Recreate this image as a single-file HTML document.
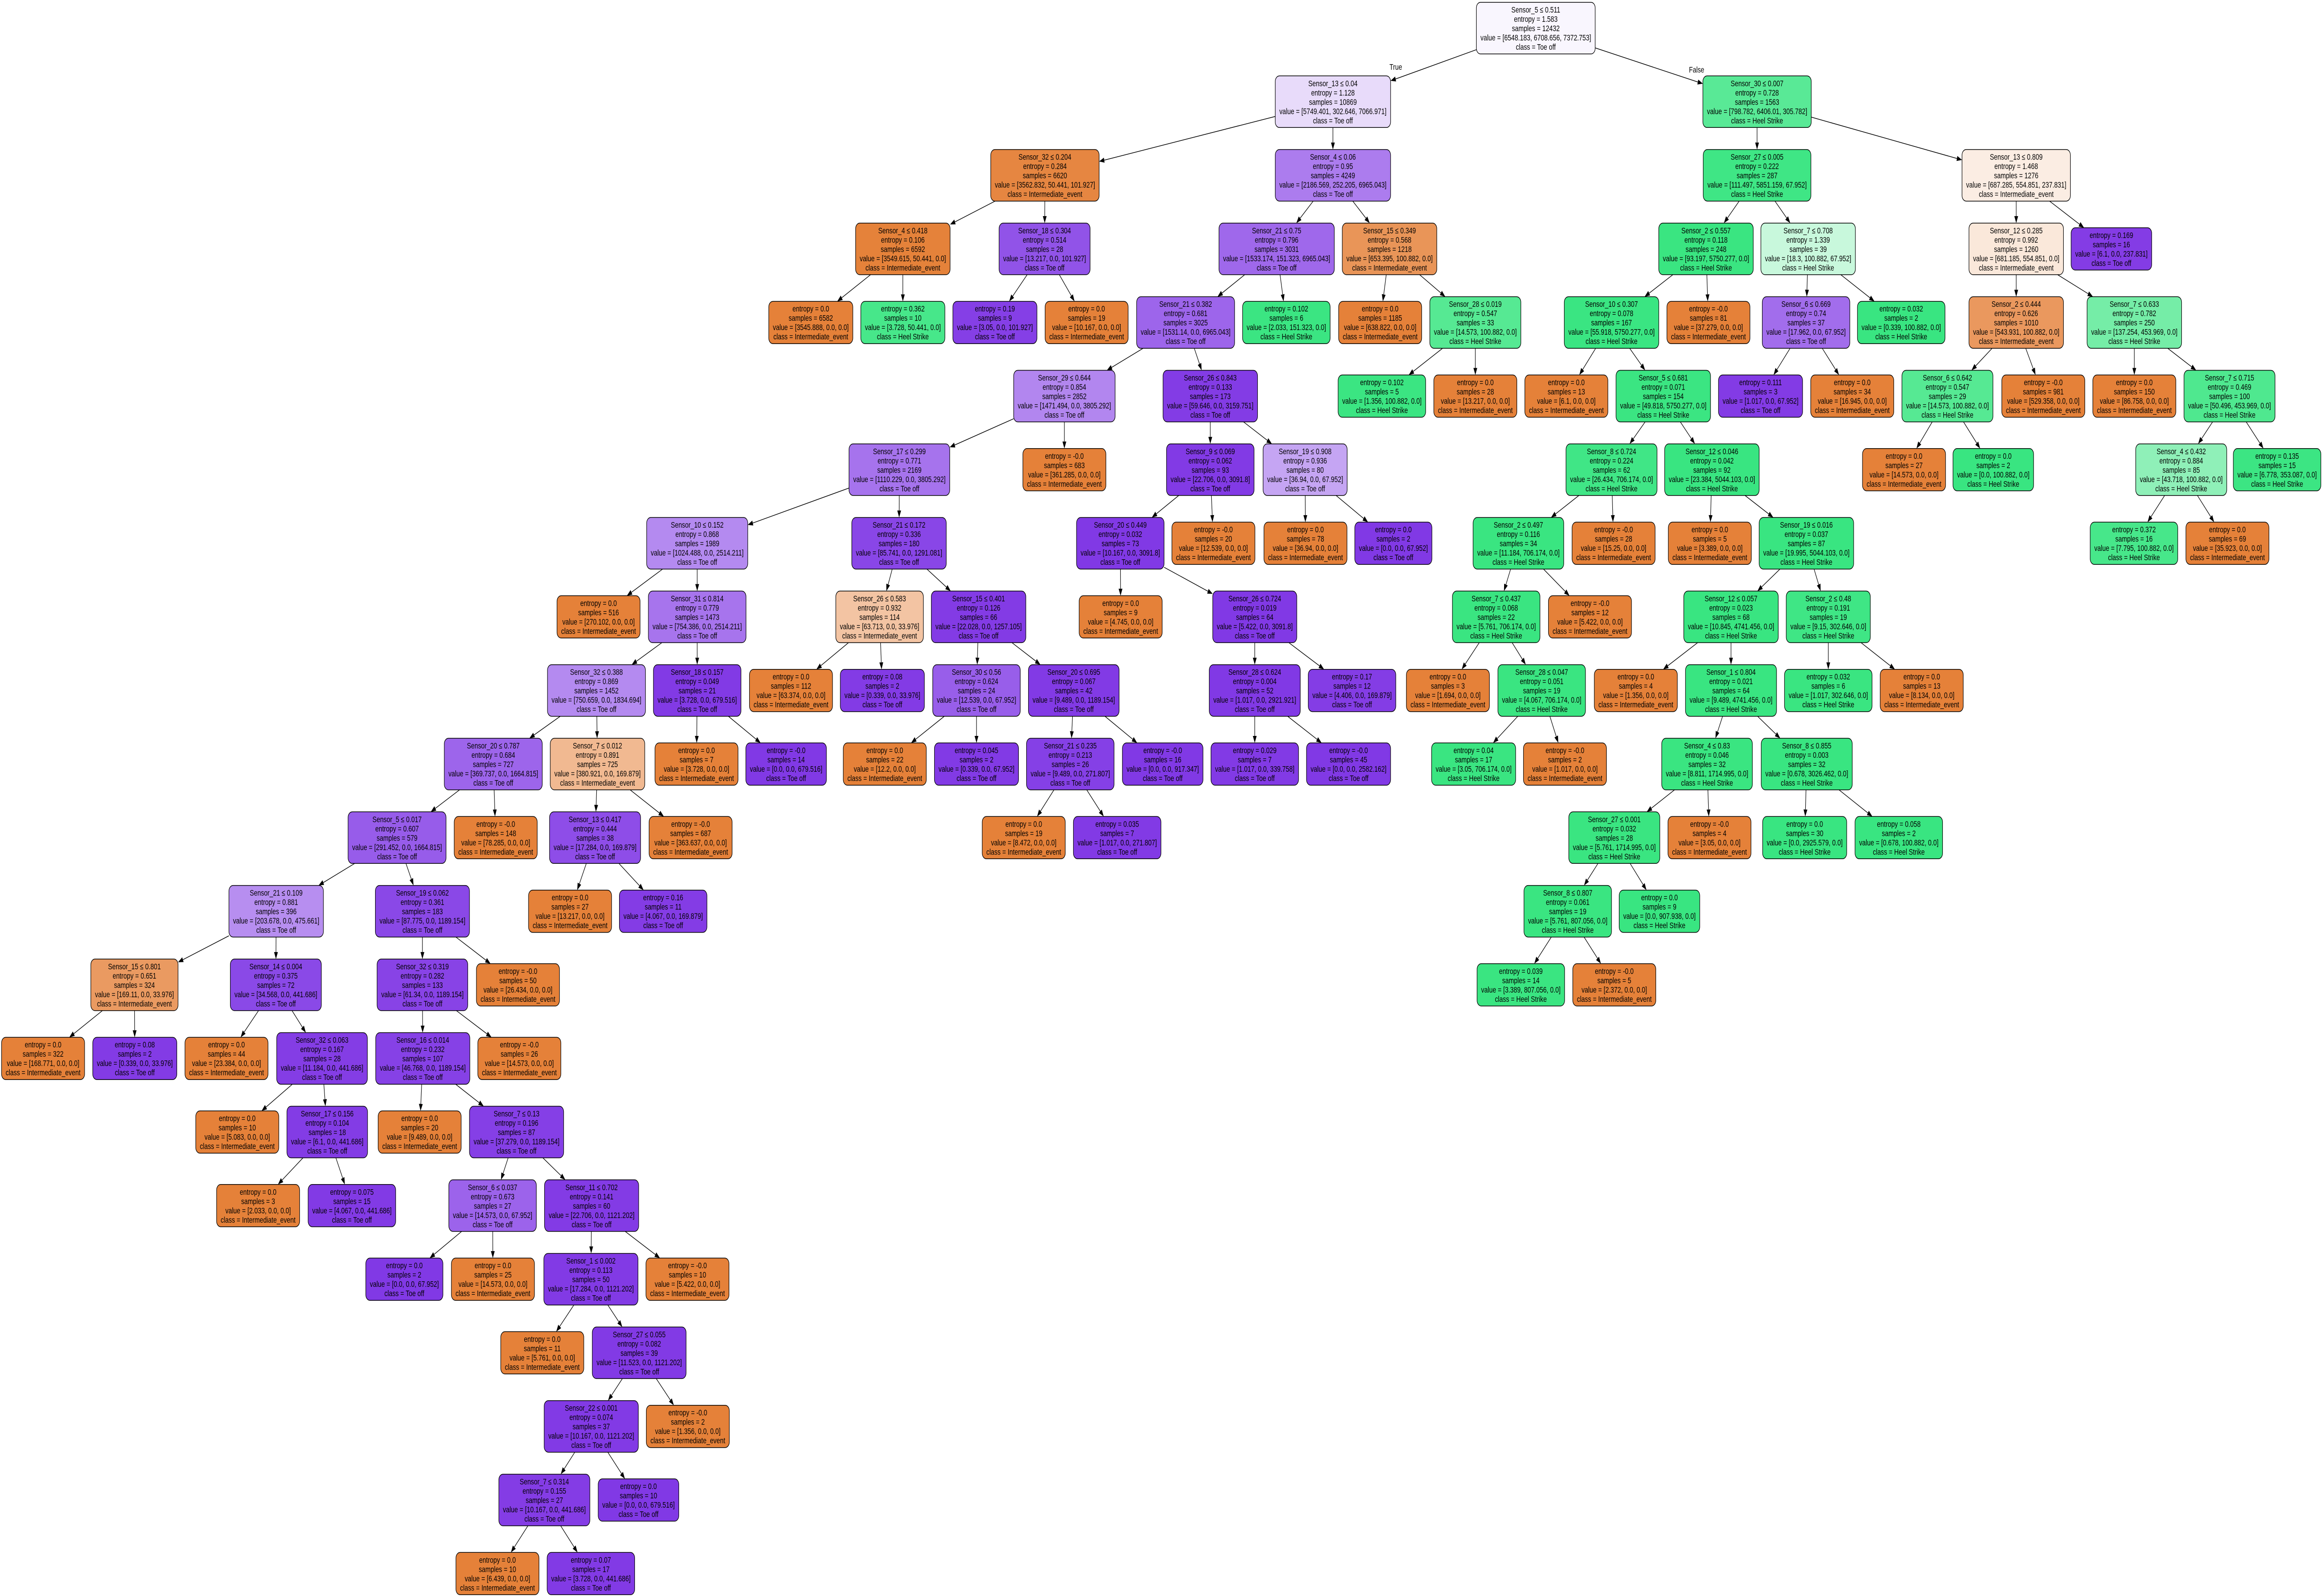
<!DOCTYPE html>
<html><head><meta charset="utf-8"><style>
html,body{margin:0;padding:0;background:#fff;width:100%;height:100%;overflow:hidden}
svg{display:block;position:absolute;left:0;top:0;width:100vw;height:100vh}
text{font-family:"Liberation Sans",Arial,sans-serif;font-size:18px;text-anchor:middle;fill:#000}
rect{stroke:#000;stroke-width:1.5}
</style></head><body>
<svg id="s" xmlns="http://www.w3.org/2000/svg" viewBox="0 0 6690 3433" preserveAspectRatio="none">
<rect x="0" y="0" width="6690" height="3433" fill="#fff" style="stroke:none"/>
<g id="edges"></g>
<text x="4018" y="150">True</text>
<text x="4884" y="156">False</text>

<g id="n1" class="n" transform="translate(4421,60.5)"><rect x="-125" y="-55.5" width="250" height="111" rx="12" fill="#f9f6fe"/><text y="-33.5">Sensor_5 ≤ 0.511</text><text y="-13.5">entropy = 1.583</text><text y="6.5">samples = 12432</text><text y="26.5">value = [6548.183, 6708.656, 7372.753]</text><text y="46.5">class = Toe off</text></g>
<g id="n2" class="n p1" transform="translate(3837,218.8)"><rect x="-125" y="-55.5" width="250" height="111" rx="12" fill="#e8dbfa"/><text y="-33.5">Sensor_13 ≤ 0.04</text><text y="-13.5">entropy = 1.128</text><text y="6.5">samples = 10869</text><text y="26.5">value = [5749.401, 302.646, 7066.971]</text><text y="46.5">class = Toe off</text></g>
<g id="n3" class="n p1" transform="translate(5058,218.8)"><rect x="-125" y="-55.5" width="250" height="111" rx="12" fill="#59e996"/><text y="-33.5">Sensor_30 ≤ 0.007</text><text y="-13.5">entropy = 0.728</text><text y="6.5">samples = 1563</text><text y="26.5">value = [798.782, 6406.01, 305.782]</text><text y="46.5">class = Heel Strike</text></g>
<g id="n4" class="n p2" transform="translate(3008,377.1)"><rect x="-125" y="-55.5" width="250" height="111" rx="12" fill="#e68641"/><text y="-33.5">Sensor_32 ≤ 0.204</text><text y="-13.5">entropy = 0.284</text><text y="6.5">samples = 6620</text><text y="26.5">value = [3562.832, 50.441, 101.927]</text><text y="46.5">class = Intermediate_event</text></g>
<g id="n5" class="n p2" transform="translate(3837,377.1)"><rect x="-125" y="-55.5" width="250" height="111" rx="12" fill="#ac7cee"/><text y="-33.5">Sensor_4 ≤ 0.06</text><text y="-13.5">entropy = 0.95</text><text y="6.5">samples = 4249</text><text y="26.5">value = [2186.569, 252.205, 6965.043]</text><text y="46.5">class = Toe off</text></g>
<g id="n6" class="n p4" transform="translate(2599,535.4)"><rect x="-125" y="-55.5" width="250" height="111" rx="12" fill="#e5823a"/><text y="-33.5">Sensor_4 ≤ 0.418</text><text y="-13.5">entropy = 0.106</text><text y="6.5">samples = 6592</text><text y="26.5">value = [3549.615, 50.441, 0.0]</text><text y="46.5">class = Intermediate_event</text></g>
<g id="n7" class="n p4" transform="translate(3007,535.4)"><rect x="-125" y="-55.5" width="250" height="111" rx="12" fill="#9153e8"/><text y="-33.5">Sensor_18 ≤ 0.304</text><text y="-13.5">entropy = 0.514</text><text y="6.5">samples = 28</text><text y="26.5">value = [13.217, 0.0, 101.927]</text><text y="46.5">class = Toe off</text></g>
<g id="n8" class="n p5" transform="translate(3675,535.4)"><rect x="-125" y="-55.5" width="250" height="111" rx="12" fill="#9f68eb"/><text y="-33.5">Sensor_21 ≤ 0.75</text><text y="-13.5">entropy = 0.796</text><text y="6.5">samples = 3031</text><text y="26.5">value = [1533.174, 151.323, 6965.043]</text><text y="46.5">class = Toe off</text></g>
<g id="n9" class="n p5" transform="translate(4000,535.4)"><rect x="-125" y="-55.5" width="250" height="111" rx="12" fill="#e99558"/><text y="-33.5">Sensor_15 ≤ 0.349</text><text y="-13.5">entropy = 0.568</text><text y="6.5">samples = 1218</text><text y="26.5">value = [653.395, 100.882, 0.0]</text><text y="46.5">class = Intermediate_event</text></g>
<g id="n10" class="n p6" transform="translate(2334,693.7)"><rect x="-125" y="-45.5" width="250" height="91" rx="12" fill="#e58139"/><text y="-23.5">entropy = 0.0</text><text y="-3.5">samples = 6582</text><text y="16.5">value = [3545.888, 0.0, 0.0]</text><text y="36.5">class = Intermediate_event</text></g>
<g id="n11" class="n p6" transform="translate(2599,693.7)"><rect x="-125" y="-45.5" width="250" height="91" rx="12" fill="#47e78a"/><text y="-23.5">entropy = 0.362</text><text y="-3.5">samples = 10</text><text y="16.5">value = [3.728, 50.441, 0.0]</text><text y="36.5">class = Heel Strike</text></g>
<g id="n12" class="n p7" transform="translate(2864,693.7)"><rect x="-125" y="-45.5" width="250" height="91" rx="12" fill="#853fe6"/><text y="-23.5">entropy = 0.19</text><text y="-3.5">samples = 9</text><text y="16.5">value = [3.05, 0.0, 101.927]</text><text y="36.5">class = Toe off</text></g>
<g id="n13" class="n p7" transform="translate(3128,693.7)"><rect x="-125" y="-45.5" width="250" height="91" rx="12" fill="#e58139"/><text y="-23.5">entropy = 0.0</text><text y="-3.5">samples = 19</text><text y="16.5">value = [10.167, 0.0, 0.0]</text><text y="36.5">class = Intermediate_event</text></g>
<g id="n14" class="n p8" transform="translate(3413,693.7)"><rect x="-125" y="-55.5" width="250" height="111" rx="12" fill="#9d65eb"/><text y="-33.5">Sensor_21 ≤ 0.382</text><text y="-13.5">entropy = 0.681</text><text y="6.5">samples = 3025</text><text y="26.5">value = [1531.14, 0.0, 6965.043]</text><text y="46.5">class = Toe off</text></g>
<g id="n15" class="n p8" transform="translate(3703,693.7)"><rect x="-125" y="-45.5" width="250" height="91" rx="12" fill="#3be582"/><text y="-23.5">entropy = 0.102</text><text y="-3.5">samples = 6</text><text y="16.5">value = [2.033, 151.323, 0.0]</text><text y="36.5">class = Heel Strike</text></g>
<g id="n16" class="n p9" transform="translate(3973,693.7)"><rect x="-125" y="-45.5" width="250" height="91" rx="12" fill="#e58139"/><text y="-23.5">entropy = 0.0</text><text y="-3.5">samples = 1185</text><text y="16.5">value = [638.822, 0.0, 0.0]</text><text y="36.5">class = Intermediate_event</text></g>
<g id="n17" class="n p9" transform="translate(4247,693.7)"><rect x="-125" y="-55.5" width="250" height="111" rx="12" fill="#56e993"/><text y="-33.5">Sensor_28 ≤ 0.019</text><text y="-13.5">entropy = 0.547</text><text y="6.5">samples = 33</text><text y="26.5">value = [14.573, 100.882, 0.0]</text><text y="46.5">class = Heel Strike</text></g>
<g id="n18" class="n p14" transform="translate(3064,852)"><rect x="-125" y="-55.5" width="250" height="111" rx="12" fill="#b286ef"/><text y="-33.5">Sensor_29 ≤ 0.644</text><text y="-13.5">entropy = 0.854</text><text y="6.5">samples = 2852</text><text y="26.5">value = [1471.494, 0.0, 3805.292]</text><text y="46.5">class = Toe off</text></g>
<g id="n19" class="n p14" transform="translate(3484,852)"><rect x="-125" y="-55.5" width="250" height="111" rx="12" fill="#833ce5"/><text y="-33.5">Sensor_26 ≤ 0.843</text><text y="-13.5">entropy = 0.133</text><text y="6.5">samples = 173</text><text y="26.5">value = [59.646, 0.0, 3159.751]</text><text y="46.5">class = Toe off</text></g>
<g id="n20" class="n p17" transform="translate(3978,852)"><rect x="-125" y="-45.5" width="250" height="91" rx="12" fill="#3be582"/><text y="-23.5">entropy = 0.102</text><text y="-3.5">samples = 5</text><text y="16.5">value = [1.356, 100.882, 0.0]</text><text y="36.5">class = Heel Strike</text></g>
<g id="n21" class="n p17" transform="translate(4247,852)"><rect x="-125" y="-45.5" width="250" height="91" rx="12" fill="#e58139"/><text y="-23.5">entropy = 0.0</text><text y="-3.5">samples = 28</text><text y="16.5">value = [13.217, 0.0, 0.0]</text><text y="36.5">class = Intermediate_event</text></g>
<g id="n22" class="n p18" transform="translate(2589,1010.3)"><rect x="-125" y="-55.5" width="250" height="111" rx="12" fill="#a673ed"/><text y="-33.5">Sensor_17 ≤ 0.299</text><text y="-13.5">entropy = 0.771</text><text y="6.5">samples = 2169</text><text y="26.5">value = [1110.229, 0.0, 3805.292]</text><text y="46.5">class = Toe off</text></g>
<g id="n23" class="n p18" transform="translate(3064,1010.3)"><rect x="-125" y="-45.5" width="250" height="91" rx="12" fill="#e58139"/><text y="-23.5">entropy = -0.0</text><text y="-3.5">samples = 683</text><text y="16.5">value = [361.285, 0.0, 0.0]</text><text y="36.5">class = Intermediate_event</text></g>
<g id="n24" class="n p19" transform="translate(3484,1010.3)"><rect x="-125" y="-55.5" width="250" height="111" rx="12" fill="#823ae5"/><text y="-33.5">Sensor_9 ≤ 0.069</text><text y="-13.5">entropy = 0.062</text><text y="6.5">samples = 93</text><text y="26.5">value = [22.706, 0.0, 3091.8]</text><text y="46.5">class = Toe off</text></g>
<g id="n25" class="n p19" transform="translate(3757,1010.3)"><rect x="-125" y="-55.5" width="250" height="111" rx="12" fill="#c5a5f3"/><text y="-33.5">Sensor_19 ≤ 0.908</text><text y="-13.5">entropy = 0.936</text><text y="6.5">samples = 80</text><text y="26.5">value = [36.94, 0.0, 67.952]</text><text y="46.5">class = Toe off</text></g>
<g id="n26" class="n p22" transform="translate(2007,1168.6)"><rect x="-125" y="-55.5" width="250" height="111" rx="12" fill="#b48af0"/><text y="-33.5">Sensor_10 ≤ 0.152</text><text y="-13.5">entropy = 0.868</text><text y="6.5">samples = 1989</text><text y="26.5">value = [1024.488, 0.0, 2514.211]</text><text y="46.5">class = Toe off</text></g>
<g id="n27" class="n p22" transform="translate(2588,1168.6)"><rect x="-125" y="-55.5" width="250" height="111" rx="12" fill="#8946e7"/><text y="-33.5">Sensor_21 ≤ 0.172</text><text y="-13.5">entropy = 0.336</text><text y="6.5">samples = 180</text><text y="26.5">value = [85.741, 0.0, 1291.081]</text><text y="46.5">class = Toe off</text></g>
<g id="n28" class="n p24" transform="translate(3225,1168.6)"><rect x="-125" y="-55.5" width="250" height="111" rx="12" fill="#8139e5"/><text y="-33.5">Sensor_20 ≤ 0.449</text><text y="-13.5">entropy = 0.032</text><text y="6.5">samples = 73</text><text y="26.5">value = [10.167, 0.0, 3091.8]</text><text y="46.5">class = Toe off</text></g>
<g id="n29" class="n p24" transform="translate(3493,1168.6)"><rect x="-125" y="-45.5" width="250" height="91" rx="12" fill="#e58139"/><text y="-23.5">entropy = -0.0</text><text y="-3.5">samples = 20</text><text y="16.5">value = [12.539, 0.0, 0.0]</text><text y="36.5">class = Intermediate_event</text></g>
<g id="n30" class="n p25" transform="translate(3758,1168.6)"><rect x="-125" y="-45.5" width="250" height="91" rx="12" fill="#e58139"/><text y="-23.5">entropy = 0.0</text><text y="-3.5">samples = 78</text><text y="16.5">value = [36.94, 0.0, 0.0]</text><text y="36.5">class = Intermediate_event</text></g>
<g id="n31" class="n p25" transform="translate(4011,1168.6)"><rect x="-125" y="-45.5" width="250" height="91" rx="12" fill="#8139e5"/><text y="-23.5">entropy = 0.0</text><text y="-3.5">samples = 2</text><text y="16.5">value = [0.0, 0.0, 67.952]</text><text y="36.5">class = Toe off</text></g>
<g id="n32" class="n p26" transform="translate(1723,1326.9)"><rect x="-125" y="-45.5" width="250" height="91" rx="12" fill="#e58139"/><text y="-23.5">entropy = 0.0</text><text y="-3.5">samples = 516</text><text y="16.5">value = [270.102, 0.0, 0.0]</text><text y="36.5">class = Intermediate_event</text></g>
<g id="n33" class="n p26" transform="translate(2007,1326.9)"><rect x="-125" y="-55.5" width="250" height="111" rx="12" fill="#a774ed"/><text y="-33.5">Sensor_31 ≤ 0.814</text><text y="-13.5">entropy = 0.779</text><text y="6.5">samples = 1473</text><text y="26.5">value = [754.386, 0.0, 2514.211]</text><text y="46.5">class = Toe off</text></g>
<g id="n34" class="n p27" transform="translate(2532,1326.9)"><rect x="-125" y="-55.5" width="250" height="111" rx="12" fill="#f3c4a3"/><text y="-33.5">Sensor_26 ≤ 0.583</text><text y="-13.5">entropy = 0.932</text><text y="6.5">samples = 114</text><text y="26.5">value = [63.713, 0.0, 33.976]</text><text y="46.5">class = Intermediate_event</text></g>
<g id="n35" class="n p27" transform="translate(2817,1326.9)"><rect x="-125" y="-55.5" width="250" height="111" rx="12" fill="#833be5"/><text y="-33.5">Sensor_15 ≤ 0.401</text><text y="-13.5">entropy = 0.126</text><text y="6.5">samples = 66</text><text y="26.5">value = [22.028, 0.0, 1257.105]</text><text y="46.5">class = Toe off</text></g>
<g id="n36" class="n p28" transform="translate(3226,1326.9)"><rect x="-125" y="-45.5" width="250" height="91" rx="12" fill="#e58139"/><text y="-23.5">entropy = 0.0</text><text y="-3.5">samples = 9</text><text y="16.5">value = [4.745, 0.0, 0.0]</text><text y="36.5">class = Intermediate_event</text></g>
<g id="n37" class="n p28" transform="translate(3612,1326.9)"><rect x="-125" y="-55.5" width="250" height="111" rx="12" fill="#8139e5"/><text y="-33.5">Sensor_26 ≤ 0.724</text><text y="-13.5">entropy = 0.019</text><text y="6.5">samples = 64</text><text y="26.5">value = [5.422, 0.0, 3091.8]</text><text y="46.5">class = Toe off</text></g>
<g id="n38" class="n p33" transform="translate(1717,1485.2)"><rect x="-125" y="-55.5" width="250" height="111" rx="12" fill="#b48af0"/><text y="-33.5">Sensor_32 ≤ 0.388</text><text y="-13.5">entropy = 0.869</text><text y="6.5">samples = 1452</text><text y="26.5">value = [750.659, 0.0, 1834.694]</text><text y="46.5">class = Toe off</text></g>
<g id="n39" class="n p33" transform="translate(2007,1485.2)"><rect x="-125" y="-55.5" width="250" height="111" rx="12" fill="#823ae5"/><text y="-33.5">Sensor_18 ≤ 0.157</text><text y="-13.5">entropy = 0.049</text><text y="6.5">samples = 21</text><text y="26.5">value = [3.728, 0.0, 679.516]</text><text y="46.5">class = Toe off</text></g>
<g id="n40" class="n p34" transform="translate(2277,1485.2)"><rect x="-125" y="-45.5" width="250" height="91" rx="12" fill="#e58139"/><text y="-23.5">entropy = 0.0</text><text y="-3.5">samples = 112</text><text y="16.5">value = [63.374, 0.0, 0.0]</text><text y="36.5">class = Intermediate_event</text></g>
<g id="n41" class="n p34" transform="translate(2540,1485.2)"><rect x="-125" y="-45.5" width="250" height="91" rx="12" fill="#833be5"/><text y="-23.5">entropy = 0.08</text><text y="-3.5">samples = 2</text><text y="16.5">value = [0.339, 0.0, 33.976]</text><text y="36.5">class = Toe off</text></g>
<g id="n42" class="n p35" transform="translate(2811,1485.2)"><rect x="-125" y="-55.5" width="250" height="111" rx="12" fill="#985eea"/><text y="-33.5">Sensor_30 ≤ 0.56</text><text y="-13.5">entropy = 0.624</text><text y="6.5">samples = 24</text><text y="26.5">value = [12.539, 0.0, 67.952]</text><text y="46.5">class = Toe off</text></g>
<g id="n43" class="n p35" transform="translate(3091,1485.2)"><rect x="-125" y="-55.5" width="250" height="111" rx="12" fill="#823ae5"/><text y="-33.5">Sensor_20 ≤ 0.695</text><text y="-13.5">entropy = 0.067</text><text y="6.5">samples = 42</text><text y="26.5">value = [9.489, 0.0, 1189.154]</text><text y="46.5">class = Toe off</text></g>
<g id="n44" class="n p37" transform="translate(3612,1485.2)"><rect x="-125" y="-55.5" width="250" height="111" rx="12" fill="#8139e5"/><text y="-33.5">Sensor_28 ≤ 0.624</text><text y="-13.5">entropy = 0.004</text><text y="6.5">samples = 52</text><text y="26.5">value = [1.017, 0.0, 2921.921]</text><text y="46.5">class = Toe off</text></g>
<g id="n45" class="n p37" transform="translate(3892,1485.2)"><rect x="-125" y="-45.5" width="250" height="91" rx="12" fill="#843de5"/><text y="-23.5">entropy = 0.17</text><text y="-3.5">samples = 12</text><text y="16.5">value = [4.406, 0.0, 169.879]</text><text y="36.5">class = Toe off</text></g>
<g id="n46" class="n p39" transform="translate(2005,1643.5)"><rect x="-125" y="-45.5" width="250" height="91" rx="12" fill="#e58139"/><text y="-23.5">entropy = 0.0</text><text y="-3.5">samples = 7</text><text y="16.5">value = [3.728, 0.0, 0.0]</text><text y="36.5">class = Intermediate_event</text></g>
<g id="n47" class="n p39" transform="translate(2263,1643.5)"><rect x="-125" y="-45.5" width="250" height="91" rx="12" fill="#8139e5"/><text y="-23.5">entropy = -0.0</text><text y="-3.5">samples = 14</text><text y="16.5">value = [0.0, 0.0, 679.516]</text><text y="36.5">class = Toe off</text></g>
<g id="n48" class="n p42" transform="translate(2547,1643.5)"><rect x="-125" y="-45.5" width="250" height="91" rx="12" fill="#e58139"/><text y="-23.5">entropy = 0.0</text><text y="-3.5">samples = 22</text><text y="16.5">value = [12.2, 0.0, 0.0]</text><text y="36.5">class = Intermediate_event</text></g>
<g id="n49" class="n p42" transform="translate(2811,1643.5)"><rect x="-125" y="-45.5" width="250" height="91" rx="12" fill="#823ae5"/><text y="-23.5">entropy = 0.045</text><text y="-3.5">samples = 2</text><text y="16.5">value = [0.339, 0.0, 67.952]</text><text y="36.5">class = Toe off</text></g>
<g id="n50" class="n p43" transform="translate(3081,1643.5)"><rect x="-125" y="-55.5" width="250" height="111" rx="12" fill="#8540e6"/><text y="-33.5">Sensor_21 ≤ 0.235</text><text y="-13.5">entropy = 0.213</text><text y="6.5">samples = 26</text><text y="26.5">value = [9.489, 0.0, 271.807]</text><text y="46.5">class = Toe off</text></g>
<g id="n51" class="n p43" transform="translate(3347,1643.5)"><rect x="-125" y="-45.5" width="250" height="91" rx="12" fill="#8139e5"/><text y="-23.5">entropy = -0.0</text><text y="-3.5">samples = 16</text><text y="16.5">value = [0.0, 0.0, 917.347]</text><text y="36.5">class = Toe off</text></g>
<g id="n52" class="n p44" transform="translate(3612,1643.5)"><rect x="-125" y="-45.5" width="250" height="91" rx="12" fill="#823ae5"/><text y="-23.5">entropy = 0.029</text><text y="-3.5">samples = 7</text><text y="16.5">value = [1.017, 0.0, 339.758]</text><text y="36.5">class = Toe off</text></g>
<g id="n53" class="n p44" transform="translate(3882,1643.5)"><rect x="-125" y="-45.5" width="250" height="91" rx="12" fill="#8139e5"/><text y="-23.5">entropy = -0.0</text><text y="-3.5">samples = 45</text><text y="16.5">value = [0.0, 0.0, 2582.162]</text><text y="36.5">class = Toe off</text></g>
<g id="n54" class="n p38" transform="translate(1420,1643.5)"><rect x="-125" y="-55.5" width="250" height="111" rx="12" fill="#9d65eb"/><text y="-33.5">Sensor_20 ≤ 0.787</text><text y="-13.5">entropy = 0.684</text><text y="6.5">samples = 727</text><text y="26.5">value = [369.737, 0.0, 1664.815]</text><text y="46.5">class = Toe off</text></g>
<g id="n55" class="n p38" transform="translate(1720,1643.5)"><rect x="-125" y="-55.5" width="250" height="111" rx="12" fill="#f1b991"/><text y="-33.5">Sensor_7 ≤ 0.012</text><text y="-13.5">entropy = 0.891</text><text y="6.5">samples = 725</text><text y="26.5">value = [380.921, 0.0, 169.879]</text><text y="46.5">class = Intermediate_event</text></g>
<g id="n56" class="n p50" transform="translate(2947,1801.8)"><rect x="-125" y="-45.5" width="250" height="91" rx="12" fill="#e58139"/><text y="-23.5">entropy = 0.0</text><text y="-3.5">samples = 19</text><text y="16.5">value = [8.472, 0.0, 0.0]</text><text y="36.5">class = Intermediate_event</text></g>
<g id="n57" class="n p50" transform="translate(3216,1801.8)"><rect x="-125" y="-45.5" width="250" height="91" rx="12" fill="#823ae5"/><text y="-23.5">entropy = 0.035</text><text y="-3.5">samples = 7</text><text y="16.5">value = [1.017, 0.0, 271.807]</text><text y="36.5">class = Toe off</text></g>
<g id="n58" class="n p54" transform="translate(1143,1801.8)"><rect x="-125" y="-55.5" width="250" height="111" rx="12" fill="#975cea"/><text y="-33.5">Sensor_5 ≤ 0.017</text><text y="-13.5">entropy = 0.607</text><text y="6.5">samples = 579</text><text y="26.5">value = [291.452, 0.0, 1664.815]</text><text y="46.5">class = Toe off</text></g>
<g id="n59" class="n p54" transform="translate(1427,1801.8)"><rect x="-125" y="-45.5" width="250" height="91" rx="12" fill="#e58139"/><text y="-23.5">entropy = -0.0</text><text y="-3.5">samples = 148</text><text y="16.5">value = [78.285, 0.0, 0.0]</text><text y="36.5">class = Intermediate_event</text></g>
<g id="n60" class="n p55" transform="translate(1713,1801.8)"><rect x="-125" y="-55.5" width="250" height="111" rx="12" fill="#8e4de8"/><text y="-33.5">Sensor_13 ≤ 0.417</text><text y="-13.5">entropy = 0.444</text><text y="6.5">samples = 38</text><text y="26.5">value = [17.284, 0.0, 169.879]</text><text y="46.5">class = Toe off</text></g>
<g id="n61" class="n p55" transform="translate(1988,1801.8)"><rect x="-125" y="-45.5" width="250" height="91" rx="12" fill="#e58139"/><text y="-23.5">entropy = -0.0</text><text y="-3.5">samples = 687</text><text y="16.5">value = [363.637, 0.0, 0.0]</text><text y="36.5">class = Intermediate_event</text></g>
<g id="n62" class="n p58" transform="translate(795,1960.1)"><rect x="-125" y="-55.5" width="250" height="111" rx="12" fill="#b78ef0"/><text y="-33.5">Sensor_21 ≤ 0.109</text><text y="-13.5">entropy = 0.881</text><text y="6.5">samples = 396</text><text y="26.5">value = [203.678, 0.0, 475.661]</text><text y="46.5">class = Toe off</text></g>
<g id="n63" class="n p58" transform="translate(1216,1960.1)"><rect x="-125" y="-55.5" width="250" height="111" rx="12" fill="#8a48e7"/><text y="-33.5">Sensor_19 ≤ 0.062</text><text y="-13.5">entropy = 0.361</text><text y="6.5">samples = 183</text><text y="26.5">value = [87.775, 0.0, 1189.154]</text><text y="46.5">class = Toe off</text></g>
<g id="n64" class="n p60" transform="translate(1641,1960.1)"><rect x="-125" y="-45.5" width="250" height="91" rx="12" fill="#e58139"/><text y="-23.5">entropy = 0.0</text><text y="-3.5">samples = 27</text><text y="16.5">value = [13.217, 0.0, 0.0]</text><text y="36.5">class = Intermediate_event</text></g>
<g id="n65" class="n p60" transform="translate(1909,1960.1)"><rect x="-125" y="-45.5" width="250" height="91" rx="12" fill="#843ce5"/><text y="-23.5">entropy = 0.16</text><text y="-3.5">samples = 11</text><text y="16.5">value = [4.067, 0.0, 169.879]</text><text y="36.5">class = Toe off</text></g>
<g id="n66" class="n p62" transform="translate(387,2118.4)"><rect x="-125" y="-55.5" width="250" height="111" rx="12" fill="#ea9a61"/><text y="-33.5">Sensor_15 ≤ 0.801</text><text y="-13.5">entropy = 0.651</text><text y="6.5">samples = 324</text><text y="26.5">value = [169.11, 0.0, 33.976]</text><text y="46.5">class = Intermediate_event</text></g>
<g id="n67" class="n p62" transform="translate(794,2118.4)"><rect x="-125" y="-55.5" width="250" height="111" rx="12" fill="#8a49e7"/><text y="-33.5">Sensor_14 ≤ 0.004</text><text y="-13.5">entropy = 0.375</text><text y="6.5">samples = 72</text><text y="26.5">value = [34.568, 0.0, 441.686]</text><text y="46.5">class = Toe off</text></g>
<g id="n68" class="n p63" transform="translate(1216,2118.4)"><rect x="-125" y="-55.5" width="250" height="111" rx="12" fill="#8843e6"/><text y="-33.5">Sensor_32 ≤ 0.319</text><text y="-13.5">entropy = 0.282</text><text y="6.5">samples = 133</text><text y="26.5">value = [61.34, 0.0, 1189.154]</text><text y="46.5">class = Toe off</text></g>
<g id="n69" class="n p63" transform="translate(1491,2118.4)"><rect x="-125" y="-45.5" width="250" height="91" rx="12" fill="#e58139"/><text y="-23.5">entropy = -0.0</text><text y="-3.5">samples = 50</text><text y="16.5">value = [26.434, 0.0, 0.0]</text><text y="36.5">class = Intermediate_event</text></g>
<g id="n70" class="n p66" transform="translate(124,2276.7)"><rect x="-125" y="-45.5" width="250" height="91" rx="12" fill="#e58139"/><text y="-23.5">entropy = 0.0</text><text y="-3.5">samples = 322</text><text y="16.5">value = [168.771, 0.0, 0.0]</text><text y="36.5">class = Intermediate_event</text></g>
<g id="n71" class="n p66" transform="translate(388,2276.7)"><rect x="-125" y="-45.5" width="250" height="91" rx="12" fill="#833be5"/><text y="-23.5">entropy = 0.08</text><text y="-3.5">samples = 2</text><text y="16.5">value = [0.339, 0.0, 33.976]</text><text y="36.5">class = Toe off</text></g>
<g id="n72" class="n p67" transform="translate(652,2276.7)"><rect x="-125" y="-45.5" width="250" height="91" rx="12" fill="#e58139"/><text y="-23.5">entropy = 0.0</text><text y="-3.5">samples = 44</text><text y="16.5">value = [23.384, 0.0, 0.0]</text><text y="36.5">class = Intermediate_event</text></g>
<g id="n73" class="n p67" transform="translate(927,2276.7)"><rect x="-125" y="-55.5" width="250" height="111" rx="12" fill="#843de5"/><text y="-33.5">Sensor_32 ≤ 0.063</text><text y="-13.5">entropy = 0.167</text><text y="6.5">samples = 28</text><text y="26.5">value = [11.184, 0.0, 441.686]</text><text y="46.5">class = Toe off</text></g>
<g id="n74" class="n p68" transform="translate(1217,2276.7)"><rect x="-125" y="-55.5" width="250" height="111" rx="12" fill="#8641e6"/><text y="-33.5">Sensor_16 ≤ 0.014</text><text y="-13.5">entropy = 0.232</text><text y="6.5">samples = 107</text><text y="26.5">value = [46.768, 0.0, 1189.154]</text><text y="46.5">class = Toe off</text></g>
<g id="n75" class="n p68" transform="translate(1495,2276.7)"><rect x="-125" y="-45.5" width="250" height="91" rx="12" fill="#e58139"/><text y="-23.5">entropy = -0.0</text><text y="-3.5">samples = 26</text><text y="16.5">value = [14.573, 0.0, 0.0]</text><text y="36.5">class = Intermediate_event</text></g>
<g id="n76" class="n p73" transform="translate(683,2435)"><rect x="-125" y="-45.5" width="250" height="91" rx="12" fill="#e58139"/><text y="-23.5">entropy = 0.0</text><text y="-3.5">samples = 10</text><text y="16.5">value = [5.083, 0.0, 0.0]</text><text y="36.5">class = Intermediate_event</text></g>
<g id="n77" class="n p73" transform="translate(942,2435)"><rect x="-125" y="-55.5" width="250" height="111" rx="12" fill="#833ce5"/><text y="-33.5">Sensor_17 ≤ 0.156</text><text y="-13.5">entropy = 0.104</text><text y="6.5">samples = 18</text><text y="26.5">value = [6.1, 0.0, 441.686]</text><text y="46.5">class = Toe off</text></g>
<g id="n78" class="n p74" transform="translate(1208,2435)"><rect x="-125" y="-45.5" width="250" height="91" rx="12" fill="#e58139"/><text y="-23.5">entropy = 0.0</text><text y="-3.5">samples = 20</text><text y="16.5">value = [9.489, 0.0, 0.0]</text><text y="36.5">class = Intermediate_event</text></g>
<g id="n79" class="n p74" transform="translate(1487,2435)"><rect x="-125" y="-55.5" width="250" height="111" rx="12" fill="#853fe6"/><text y="-33.5">Sensor_7 ≤ 0.13</text><text y="-13.5">entropy = 0.196</text><text y="6.5">samples = 87</text><text y="26.5">value = [37.279, 0.0, 1189.154]</text><text y="46.5">class = Toe off</text></g>
<g id="n80" class="n p77" transform="translate(743,2593.3)"><rect x="-125" y="-45.5" width="250" height="91" rx="12" fill="#e58139"/><text y="-23.5">entropy = 0.0</text><text y="-3.5">samples = 3</text><text y="16.5">value = [2.033, 0.0, 0.0]</text><text y="36.5">class = Intermediate_event</text></g>
<g id="n81" class="n p77" transform="translate(1013,2593.3)"><rect x="-125" y="-45.5" width="250" height="91" rx="12" fill="#823ae5"/><text y="-23.5">entropy = 0.075</text><text y="-3.5">samples = 15</text><text y="16.5">value = [4.067, 0.0, 441.686]</text><text y="36.5">class = Toe off</text></g>
<g id="n82" class="n p79" transform="translate(1418,2593.3)"><rect x="-125" y="-55.5" width="250" height="111" rx="12" fill="#9c63eb"/><text y="-33.5">Sensor_6 ≤ 0.037</text><text y="-13.5">entropy = 0.673</text><text y="6.5">samples = 27</text><text y="26.5">value = [14.573, 0.0, 67.952]</text><text y="46.5">class = Toe off</text></g>
<g id="n83" class="n p79" transform="translate(1703,2593.3)"><rect x="-125" y="-55.5" width="250" height="111" rx="12" fill="#833be5"/><text y="-33.5">Sensor_11 ≤ 0.702</text><text y="-13.5">entropy = 0.141</text><text y="6.5">samples = 60</text><text y="26.5">value = [22.706, 0.0, 1121.202]</text><text y="46.5">class = Toe off</text></g>
<g id="n84" class="n p82" transform="translate(1164,2751.6)"><rect x="-125" y="-45.5" width="250" height="91" rx="12" fill="#8139e5"/><text y="-23.5">entropy = 0.0</text><text y="-3.5">samples = 2</text><text y="16.5">value = [0.0, 0.0, 67.952]</text><text y="36.5">class = Toe off</text></g>
<g id="n85" class="n p82" transform="translate(1419,2751.6)"><rect x="-125" y="-45.5" width="250" height="91" rx="12" fill="#e58139"/><text y="-23.5">entropy = 0.0</text><text y="-3.5">samples = 25</text><text y="16.5">value = [14.573, 0.0, 0.0]</text><text y="36.5">class = Intermediate_event</text></g>
<g id="n86" class="n p83" transform="translate(1701,2751.6)"><rect x="-125" y="-55.5" width="250" height="111" rx="12" fill="#823ae5"/><text y="-33.5">Sensor_1 ≤ 0.002</text><text y="-13.5">entropy = 0.113</text><text y="6.5">samples = 50</text><text y="26.5">value = [17.284, 0.0, 1121.202]</text><text y="46.5">class = Toe off</text></g>
<g id="n87" class="n p83" transform="translate(1979,2751.6)"><rect x="-125" y="-45.5" width="250" height="91" rx="12" fill="#e58139"/><text y="-23.5">entropy = -0.0</text><text y="-3.5">samples = 10</text><text y="16.5">value = [5.422, 0.0, 0.0]</text><text y="36.5">class = Intermediate_event</text></g>
<g id="n88" class="n p86" transform="translate(1561,2909.9)"><rect x="-125" y="-45.5" width="250" height="91" rx="12" fill="#e58139"/><text y="-23.5">entropy = 0.0</text><text y="-3.5">samples = 11</text><text y="16.5">value = [5.761, 0.0, 0.0]</text><text y="36.5">class = Intermediate_event</text></g>
<g id="n89" class="n p86" transform="translate(1840,2909.9)"><rect x="-125" y="-55.5" width="250" height="111" rx="12" fill="#823ae5"/><text y="-33.5">Sensor_27 ≤ 0.055</text><text y="-13.5">entropy = 0.082</text><text y="6.5">samples = 39</text><text y="26.5">value = [11.523, 0.0, 1121.202]</text><text y="46.5">class = Toe off</text></g>
<g id="n90" class="n p89" transform="translate(1702,3068.2)"><rect x="-125" y="-55.5" width="250" height="111" rx="12" fill="#823ae5"/><text y="-33.5">Sensor_22 ≤ 0.001</text><text y="-13.5">entropy = 0.074</text><text y="6.5">samples = 37</text><text y="26.5">value = [10.167, 0.0, 1121.202]</text><text y="46.5">class = Toe off</text></g>
<g id="n91" class="n p89" transform="translate(1980,3068.2)"><rect x="-125" y="-45.5" width="250" height="91" rx="12" fill="#e58139"/><text y="-23.5">entropy = -0.0</text><text y="-3.5">samples = 2</text><text y="16.5">value = [1.356, 0.0, 0.0]</text><text y="36.5">class = Intermediate_event</text></g>
<g id="n92" class="n p90" transform="translate(1567,3226.5)"><rect x="-125" y="-55.5" width="250" height="111" rx="12" fill="#843ce5"/><text y="-33.5">Sensor_7 ≤ 0.314</text><text y="-13.5">entropy = 0.155</text><text y="6.5">samples = 27</text><text y="26.5">value = [10.167, 0.0, 441.686]</text><text y="46.5">class = Toe off</text></g>
<g id="n93" class="n p90" transform="translate(1838,3226.5)"><rect x="-125" y="-45.5" width="250" height="91" rx="12" fill="#8139e5"/><text y="-23.5">entropy = 0.0</text><text y="-3.5">samples = 10</text><text y="16.5">value = [0.0, 0.0, 679.516]</text><text y="36.5">class = Toe off</text></g>
<g id="n94" class="n p92" transform="translate(1432,3384.8)"><rect x="-125" y="-45.5" width="250" height="91" rx="12" fill="#e58139"/><text y="-23.5">entropy = 0.0</text><text y="-3.5">samples = 10</text><text y="16.5">value = [6.439, 0.0, 0.0]</text><text y="36.5">class = Intermediate_event</text></g>
<g id="n95" class="n p92" transform="translate(1701,3384.8)"><rect x="-125" y="-45.5" width="250" height="91" rx="12" fill="#823ae5"/><text y="-23.5">entropy = 0.07</text><text y="-3.5">samples = 17</text><text y="16.5">value = [3.728, 0.0, 441.686]</text><text y="36.5">class = Toe off</text></g>

<g id="n100" class="n p3" transform="translate(5058,377.1)"><rect x="-125" y="-55.5" width="250" height="111" rx="12" fill="#3fe685"/><text y="-33.5">Sensor_27 ≤ 0.005</text><text y="-13.5">entropy = 0.222</text><text y="6.5">samples = 287</text><text y="26.5">value = [111.497, 5851.159, 67.952]</text><text y="46.5">class = Heel Strike</text></g>
<g id="n101" class="n p3" transform="translate(5804,377.1)"><rect x="-125" y="-55.5" width="250" height="111" rx="12" fill="#fbede3"/><text y="-33.5">Sensor_13 ≤ 0.809</text><text y="-13.5">entropy = 1.468</text><text y="6.5">samples = 1276</text><text y="26.5">value = [687.285, 554.851, 237.831]</text><text y="46.5">class = Intermediate_event</text></g>
<g id="n102" class="n p100" transform="translate(4911,535.4)"><rect x="-125" y="-55.5" width="250" height="111" rx="12" fill="#3ae581"/><text y="-33.5">Sensor_2 ≤ 0.557</text><text y="-13.5">entropy = 0.118</text><text y="6.5">samples = 248</text><text y="26.5">value = [93.197, 5750.277, 0.0]</text><text y="46.5">class = Heel Strike</text></g>
<g id="n103" class="n p100" transform="translate(5205,535.4)"><rect x="-125" y="-55.5" width="250" height="111" rx="12" fill="#c8f8dc"/><text y="-33.5">Sensor_7 ≤ 0.708</text><text y="-13.5">entropy = 1.339</text><text y="6.5">samples = 39</text><text y="26.5">value = [18.3, 100.882, 67.952]</text><text y="46.5">class = Heel Strike</text></g>
<g id="n104" class="n p101" transform="translate(5804,535.4)"><rect x="-125" y="-55.5" width="250" height="111" rx="12" fill="#fae8da"/><text y="-33.5">Sensor_12 ≤ 0.285</text><text y="-13.5">entropy = 0.992</text><text y="6.5">samples = 1260</text><text y="26.5">value = [681.185, 554.851, 0.0]</text><text y="46.5">class = Intermediate_event</text></g>
<g id="n105" class="n p101" transform="translate(6078,535.4)"><rect x="-125" y="-45.5" width="250" height="91" rx="12" fill="#843ce5"/><text y="-23.5">entropy = 0.169</text><text y="-3.5">samples = 16</text><text y="16.5">value = [6.1, 0.0, 237.831]</text><text y="36.5">class = Toe off</text></g>
<g id="n106" class="n p102" transform="translate(4639,693.7)"><rect x="-125" y="-55.5" width="250" height="111" rx="12" fill="#3ae582"/><text y="-33.5">Sensor_10 ≤ 0.307</text><text y="-13.5">entropy = 0.078</text><text y="6.5">samples = 167</text><text y="26.5">value = [55.918, 5750.277, 0.0]</text><text y="46.5">class = Heel Strike</text></g>
<g id="n107" class="n p102" transform="translate(4918,693.7)"><rect x="-125" y="-45.5" width="250" height="91" rx="12" fill="#e58139"/><text y="-23.5">entropy = -0.0</text><text y="-3.5">samples = 81</text><text y="16.5">value = [37.279, 0.0, 0.0]</text><text y="36.5">class = Intermediate_event</text></g>
<g id="n108" class="n p103" transform="translate(5199,693.7)"><rect x="-125" y="-55.5" width="250" height="111" rx="12" fill="#a26dec"/><text y="-33.5">Sensor_6 ≤ 0.669</text><text y="-13.5">entropy = 0.74</text><text y="6.5">samples = 37</text><text y="26.5">value = [17.962, 0.0, 67.952]</text><text y="46.5">class = Toe off</text></g>
<g id="n109" class="n p103" transform="translate(5473,693.7)"><rect x="-125" y="-45.5" width="250" height="91" rx="12" fill="#39e581"/><text y="-23.5">entropy = 0.032</text><text y="-3.5">samples = 2</text><text y="16.5">value = [0.339, 100.882, 0.0]</text><text y="36.5">class = Heel Strike</text></g>
<g id="n110" class="n p104" transform="translate(5804,693.7)"><rect x="-125" y="-55.5" width="250" height="111" rx="12" fill="#ea985e"/><text y="-33.5">Sensor_2 ≤ 0.444</text><text y="-13.5">entropy = 0.626</text><text y="6.5">samples = 1010</text><text y="26.5">value = [543.931, 100.882, 0.0]</text><text y="46.5">class = Intermediate_event</text></g>
<g id="n111" class="n p104" transform="translate(6144,693.7)"><rect x="-125" y="-55.5" width="250" height="111" rx="12" fill="#75eda7"/><text y="-33.5">Sensor_7 ≤ 0.633</text><text y="-13.5">entropy = 0.782</text><text y="6.5">samples = 250</text><text y="26.5">value = [137.254, 453.969, 0.0]</text><text y="46.5">class = Heel Strike</text></g>
<g id="n112" class="n p106" transform="translate(4509,852)"><rect x="-125" y="-45.5" width="250" height="91" rx="12" fill="#e58139"/><text y="-23.5">entropy = 0.0</text><text y="-3.5">samples = 13</text><text y="16.5">value = [6.1, 0.0, 0.0]</text><text y="36.5">class = Intermediate_event</text></g>
<g id="n113" class="n p106" transform="translate(4788,852)"><rect x="-125" y="-55.5" width="250" height="111" rx="12" fill="#3be582"/><text y="-33.5">Sensor_5 ≤ 0.681</text><text y="-13.5">entropy = 0.071</text><text y="6.5">samples = 154</text><text y="26.5">value = [49.818, 5750.277, 0.0]</text><text y="46.5">class = Heel Strike</text></g>
<g id="n114" class="n p108" transform="translate(5068,852)"><rect x="-125" y="-45.5" width="250" height="91" rx="12" fill="#833be5"/><text y="-23.5">entropy = 0.111</text><text y="-3.5">samples = 3</text><text y="16.5">value = [1.017, 0.0, 67.952]</text><text y="36.5">class = Toe off</text></g>
<g id="n115" class="n p108" transform="translate(5332,852)"><rect x="-125" y="-45.5" width="250" height="91" rx="12" fill="#e58139"/><text y="-23.5">entropy = 0.0</text><text y="-3.5">samples = 34</text><text y="16.5">value = [16.945, 0.0, 0.0]</text><text y="36.5">class = Intermediate_event</text></g>
<g id="n116" class="n p110" transform="translate(5606,852)"><rect x="-125" y="-55.5" width="250" height="111" rx="12" fill="#56e993"/><text y="-33.5">Sensor_6 ≤ 0.642</text><text y="-13.5">entropy = 0.547</text><text y="6.5">samples = 29</text><text y="26.5">value = [14.573, 100.882, 0.0]</text><text y="46.5">class = Heel Strike</text></g>
<g id="n117" class="n p110" transform="translate(5882,852)"><rect x="-125" y="-45.5" width="250" height="91" rx="12" fill="#e58139"/><text y="-23.5">entropy = -0.0</text><text y="-3.5">samples = 981</text><text y="16.5">value = [529.358, 0.0, 0.0]</text><text y="36.5">class = Intermediate_event</text></g>
<g id="n118" class="n p111" transform="translate(6144,852)"><rect x="-125" y="-45.5" width="250" height="91" rx="12" fill="#e58139"/><text y="-23.5">entropy = 0.0</text><text y="-3.5">samples = 150</text><text y="16.5">value = [86.758, 0.0, 0.0]</text><text y="36.5">class = Intermediate_event</text></g>
<g id="n119" class="n p111" transform="translate(6418,852)"><rect x="-125" y="-55.5" width="250" height="111" rx="12" fill="#4fe88f"/><text y="-33.5">Sensor_7 ≤ 0.715</text><text y="-13.5">entropy = 0.469</text><text y="6.5">samples = 100</text><text y="26.5">value = [50.496, 453.969, 0.0]</text><text y="46.5">class = Heel Strike</text></g>
<g id="n120" class="n p113" transform="translate(4639,1010.3)"><rect x="-125" y="-55.5" width="250" height="111" rx="12" fill="#40e686"/><text y="-33.5">Sensor_8 ≤ 0.724</text><text y="-13.5">entropy = 0.224</text><text y="6.5">samples = 62</text><text y="26.5">value = [26.434, 706.174, 0.0]</text><text y="46.5">class = Heel Strike</text></g>
<g id="n121" class="n p113" transform="translate(4928,1010.3)"><rect x="-125" y="-55.5" width="250" height="111" rx="12" fill="#39e581"/><text y="-33.5">Sensor_12 ≤ 0.046</text><text y="-13.5">entropy = 0.042</text><text y="6.5">samples = 92</text><text y="26.5">value = [23.384, 5044.103, 0.0]</text><text y="46.5">class = Heel Strike</text></g>
<g id="n122" class="n p116" transform="translate(5481,1010.3)"><rect x="-125" y="-45.5" width="250" height="91" rx="12" fill="#e58139"/><text y="-23.5">entropy = 0.0</text><text y="-3.5">samples = 27</text><text y="16.5">value = [14.573, 0.0, 0.0]</text><text y="36.5">class = Intermediate_event</text></g>
<g id="n123" class="n p116" transform="translate(5738,1010.3)"><rect x="-125" y="-45.5" width="250" height="91" rx="12" fill="#39e581"/><text y="-23.5">entropy = 0.0</text><text y="-3.5">samples = 2</text><text y="16.5">value = [0.0, 100.882, 0.0]</text><text y="36.5">class = Heel Strike</text></g>
<g id="n124" class="n p119" transform="translate(6279,1010.3)"><rect x="-125" y="-55.5" width="250" height="111" rx="12" fill="#8ff0b8"/><text y="-33.5">Sensor_4 ≤ 0.432</text><text y="-13.5">entropy = 0.884</text><text y="6.5">samples = 85</text><text y="26.5">value = [43.718, 100.882, 0.0]</text><text y="46.5">class = Heel Strike</text></g>
<g id="n125" class="n p119" transform="translate(6555,1010.3)"><rect x="-125" y="-45.5" width="250" height="91" rx="12" fill="#3ce583"/><text y="-23.5">entropy = 0.135</text><text y="-3.5">samples = 15</text><text y="16.5">value = [6.778, 353.087, 0.0]</text><text y="36.5">class = Heel Strike</text></g>
<g id="n126" class="n p120" transform="translate(4371,1168.6)"><rect x="-125" y="-55.5" width="250" height="111" rx="12" fill="#3ae581"/><text y="-33.5">Sensor_2 ≤ 0.497</text><text y="-13.5">entropy = 0.116</text><text y="6.5">samples = 34</text><text y="26.5">value = [11.184, 706.174, 0.0]</text><text y="46.5">class = Heel Strike</text></g>
<g id="n127" class="n p120" transform="translate(4645,1168.6)"><rect x="-125" y="-45.5" width="250" height="91" rx="12" fill="#e58139"/><text y="-23.5">entropy = -0.0</text><text y="-3.5">samples = 28</text><text y="16.5">value = [15.25, 0.0, 0.0]</text><text y="36.5">class = Intermediate_event</text></g>
<g id="n128" class="n p121" transform="translate(4922,1168.6)"><rect x="-125" y="-45.5" width="250" height="91" rx="12" fill="#e58139"/><text y="-23.5">entropy = 0.0</text><text y="-3.5">samples = 5</text><text y="16.5">value = [3.389, 0.0, 0.0]</text><text y="36.5">class = Intermediate_event</text></g>
<g id="n129" class="n p121" transform="translate(5200,1168.6)"><rect x="-125" y="-55.5" width="250" height="111" rx="12" fill="#39e581"/><text y="-33.5">Sensor_19 ≤ 0.016</text><text y="-13.5">entropy = 0.037</text><text y="6.5">samples = 87</text><text y="26.5">value = [19.995, 5044.103, 0.0]</text><text y="46.5">class = Heel Strike</text></g>
<g id="n130" class="n p124" transform="translate(6143,1168.6)"><rect x="-125" y="-45.5" width="250" height="91" rx="12" fill="#47e78a"/><text y="-23.5">entropy = 0.372</text><text y="-3.5">samples = 16</text><text y="16.5">value = [7.795, 100.882, 0.0]</text><text y="36.5">class = Heel Strike</text></g>
<g id="n131" class="n p124" transform="translate(6412,1168.6)"><rect x="-125" y="-45.5" width="250" height="91" rx="12" fill="#e58139"/><text y="-23.5">entropy = 0.0</text><text y="-3.5">samples = 69</text><text y="16.5">value = [35.923, 0.0, 0.0]</text><text y="36.5">class = Intermediate_event</text></g>
<g id="n132" class="n p126" transform="translate(4307,1326.9)"><rect x="-125" y="-55.5" width="250" height="111" rx="12" fill="#3ae581"/><text y="-33.5">Sensor_7 ≤ 0.437</text><text y="-13.5">entropy = 0.068</text><text y="6.5">samples = 22</text><text y="26.5">value = [5.761, 706.174, 0.0]</text><text y="46.5">class = Heel Strike</text></g>
<g id="n133" class="n p126" transform="translate(4577,1326.9)"><rect x="-125" y="-45.5" width="250" height="91" rx="12" fill="#e58139"/><text y="-23.5">entropy = -0.0</text><text y="-3.5">samples = 12</text><text y="16.5">value = [5.422, 0.0, 0.0]</text><text y="36.5">class = Intermediate_event</text></g>
<g id="n134" class="n p129" transform="translate(4983,1326.9)"><rect x="-125" y="-55.5" width="250" height="111" rx="12" fill="#39e581"/><text y="-33.5">Sensor_12 ≤ 0.057</text><text y="-13.5">entropy = 0.023</text><text y="6.5">samples = 68</text><text y="26.5">value = [10.845, 4741.456, 0.0]</text><text y="46.5">class = Heel Strike</text></g>
<g id="n135" class="n p129" transform="translate(5263,1326.9)"><rect x="-125" y="-55.5" width="250" height="111" rx="12" fill="#3fe685"/><text y="-33.5">Sensor_2 ≤ 0.48</text><text y="-13.5">entropy = 0.191</text><text y="6.5">samples = 19</text><text y="26.5">value = [9.15, 302.646, 0.0]</text><text y="46.5">class = Heel Strike</text></g>
<g id="n136" class="n p132" transform="translate(4168,1485.2)"><rect x="-125" y="-45.5" width="250" height="91" rx="12" fill="#e58139"/><text y="-23.5">entropy = 0.0</text><text y="-3.5">samples = 3</text><text y="16.5">value = [1.694, 0.0, 0.0]</text><text y="36.5">class = Intermediate_event</text></g>
<g id="n137" class="n p132" transform="translate(4438,1485.2)"><rect x="-125" y="-55.5" width="250" height="111" rx="12" fill="#3ae581"/><text y="-33.5">Sensor_28 ≤ 0.047</text><text y="-13.5">entropy = 0.051</text><text y="6.5">samples = 19</text><text y="26.5">value = [4.067, 706.174, 0.0]</text><text y="46.5">class = Heel Strike</text></g>
<g id="n138" class="n p134" transform="translate(4709,1485.2)"><rect x="-125" y="-45.5" width="250" height="91" rx="12" fill="#e58139"/><text y="-23.5">entropy = 0.0</text><text y="-3.5">samples = 4</text><text y="16.5">value = [1.356, 0.0, 0.0]</text><text y="36.5">class = Intermediate_event</text></g>
<g id="n139" class="n p134" transform="translate(4983,1485.2)"><rect x="-125" y="-55.5" width="250" height="111" rx="12" fill="#39e581"/><text y="-33.5">Sensor_1 ≤ 0.804</text><text y="-13.5">entropy = 0.021</text><text y="6.5">samples = 64</text><text y="26.5">value = [9.489, 4741.456, 0.0]</text><text y="46.5">class = Heel Strike</text></g>
<g id="n140" class="n p135" transform="translate(5263,1485.2)"><rect x="-125" y="-45.5" width="250" height="91" rx="12" fill="#3ae581"/><text y="-23.5">entropy = 0.032</text><text y="-3.5">samples = 6</text><text y="16.5">value = [1.017, 302.646, 0.0]</text><text y="36.5">class = Heel Strike</text></g>
<g id="n141" class="n p135" transform="translate(5532,1485.2)"><rect x="-125" y="-45.5" width="250" height="91" rx="12" fill="#e58139"/><text y="-23.5">entropy = 0.0</text><text y="-3.5">samples = 13</text><text y="16.5">value = [8.134, 0.0, 0.0]</text><text y="36.5">class = Intermediate_event</text></g>
<g id="n142" class="n p137" transform="translate(4242,1643.5)"><rect x="-125" y="-45.5" width="250" height="91" rx="12" fill="#3ae581"/><text y="-23.5">entropy = 0.04</text><text y="-3.5">samples = 17</text><text y="16.5">value = [3.05, 706.174, 0.0]</text><text y="36.5">class = Heel Strike</text></g>
<g id="n143" class="n p137" transform="translate(4505,1643.5)"><rect x="-125" y="-45.5" width="250" height="91" rx="12" fill="#e58139"/><text y="-23.5">entropy = -0.0</text><text y="-3.5">samples = 2</text><text y="16.5">value = [1.017, 0.0, 0.0]</text><text y="36.5">class = Intermediate_event</text></g>
<g id="n144" class="n p139" transform="translate(4914,1643.5)"><rect x="-125" y="-55.5" width="250" height="111" rx="12" fill="#3ae581"/><text y="-33.5">Sensor_4 ≤ 0.83</text><text y="-13.5">entropy = 0.046</text><text y="6.5">samples = 32</text><text y="26.5">value = [8.811, 1714.995, 0.0]</text><text y="46.5">class = Heel Strike</text></g>
<g id="n145" class="n p139" transform="translate(5201,1643.5)"><rect x="-125" y="-55.5" width="250" height="111" rx="12" fill="#39e581"/><text y="-33.5">Sensor_8 ≤ 0.855</text><text y="-13.5">entropy = 0.003</text><text y="6.5">samples = 32</text><text y="26.5">value = [0.678, 3026.462, 0.0]</text><text y="46.5">class = Heel Strike</text></g>
<g id="n146" class="n p144" transform="translate(4647,1801.8)"><rect x="-125" y="-55.5" width="250" height="111" rx="12" fill="#3ae581"/><text y="-33.5">Sensor_27 ≤ 0.001</text><text y="-13.5">entropy = 0.032</text><text y="6.5">samples = 28</text><text y="26.5">value = [5.761, 1714.995, 0.0]</text><text y="46.5">class = Heel Strike</text></g>
<g id="n147" class="n p144" transform="translate(4921,1801.8)"><rect x="-125" y="-45.5" width="250" height="91" rx="12" fill="#e58139"/><text y="-23.5">entropy = -0.0</text><text y="-3.5">samples = 4</text><text y="16.5">value = [3.05, 0.0, 0.0]</text><text y="36.5">class = Intermediate_event</text></g>
<g id="n148" class="n p145" transform="translate(5195,1801.8)"><rect x="-125" y="-45.5" width="250" height="91" rx="12" fill="#39e581"/><text y="-23.5">entropy = 0.0</text><text y="-3.5">samples = 30</text><text y="16.5">value = [0.0, 2925.579, 0.0]</text><text y="36.5">class = Heel Strike</text></g>
<g id="n149" class="n p145" transform="translate(5466,1801.8)"><rect x="-125" y="-45.5" width="250" height="91" rx="12" fill="#39e581"/><text y="-23.5">entropy = 0.058</text><text y="-3.5">samples = 2</text><text y="16.5">value = [0.678, 100.882, 0.0]</text><text y="36.5">class = Heel Strike</text></g>
<g id="n150" class="n p146" transform="translate(4513,1960.1)"><rect x="-125" y="-55.5" width="250" height="111" rx="12" fill="#3ae581"/><text y="-33.5">Sensor_8 ≤ 0.807</text><text y="-13.5">entropy = 0.061</text><text y="6.5">samples = 19</text><text y="26.5">value = [5.761, 807.056, 0.0]</text><text y="46.5">class = Heel Strike</text></g>
<g id="n151" class="n p146" transform="translate(4777,1960.1)"><rect x="-125" y="-45.5" width="250" height="91" rx="12" fill="#39e581"/><text y="-23.5">entropy = 0.0</text><text y="-3.5">samples = 9</text><text y="16.5">value = [0.0, 907.938, 0.0]</text><text y="36.5">class = Heel Strike</text></g>
<g id="n152" class="n p150" transform="translate(4378,2118.4)"><rect x="-125" y="-45.5" width="250" height="91" rx="12" fill="#3ae581"/><text y="-23.5">entropy = 0.039</text><text y="-3.5">samples = 14</text><text y="16.5">value = [3.389, 807.056, 0.0]</text><text y="36.5">class = Heel Strike</text></g>
<g id="n153" class="n p150" transform="translate(4647,2118.4)"><rect x="-125" y="-45.5" width="250" height="91" rx="12" fill="#e58139"/><text y="-23.5">entropy = -0.0</text><text y="-3.5">samples = 5</text><text y="16.5">value = [2.372, 0.0, 0.0]</text><text y="36.5">class = Intermediate_event</text></g>
</svg>
<script>
(function(){
var NS="http://www.w3.org/2000/svg";
var box={};
var gs=document.querySelectorAll('g.n');
gs.forEach(function(g){
  var m=/translate\(([-\d.]+),([-\d.]+)\)/.exec(g.getAttribute('transform'));
  var cx=+m[1],cy=+m[2];
  var mx=0;
  g.querySelectorAll('text').forEach(function(t){var l=t.getComputedTextLength();if(l>mx)mx=l;});
  var w=Math.round(mx+24);
  var r=g.querySelector('rect');
  if(mx>0){
    if(cx+w/2>6686){cx=6686-w/2;g.setAttribute('transform','translate('+cx+','+cy+')');}
    r.setAttribute('x',-w/2);r.setAttribute('width',w);
  }else{w=+r.getAttribute('width');}
  var h=+r.getAttribute('height');
  box[g.id]={cx:cx,cy:cy,hw:w/2,hh:h/2};
});
var eg=document.getElementById('edges');
gs.forEach(function(g){
  var pm=/\bp(\d+)\b/.exec(g.getAttribute('class'));
  if(!pm)return;
  var p=box['n'+pm[1]],c=box[g.id];
  if(!p||!c)return;
  var dx=c.cx-p.cx,dy=c.cy-p.cy;
  var L=Math.sqrt(dx*dx+dy*dy),ux=dx/L,uy=dy/L;
  var tp=Math.min(dx?p.hw/Math.abs(dx):1e9,dy?p.hh/Math.abs(dy):1e9);
  var tc=Math.min(dx?c.hw/Math.abs(dx):1e9,dy?c.hh/Math.abs(dy):1e9);
  var sx=p.cx+dx*tp,sy=p.cy+dy*tp;
  var ex=c.cx-dx*tc,ey=c.cy-dy*tc;
  var al=15,aw=5.5;
  var bx=ex-ux*al,by=ey-uy*al;
  var ln=document.createElementNS(NS,'line');
  ln.setAttribute('x1',sx);ln.setAttribute('y1',sy);ln.setAttribute('x2',bx);ln.setAttribute('y2',by);
  ln.setAttribute('stroke','#000');ln.setAttribute('stroke-width','1.5');
  eg.appendChild(ln);
  var pg=document.createElementNS(NS,'polygon');
  pg.setAttribute('points',ex+','+ey+' '+(bx-uy*aw)+','+(by+ux*aw)+' '+(bx+uy*aw)+','+(by-ux*aw));
  pg.setAttribute('fill','#000');
  eg.appendChild(pg);
});
})();
</script>
</body></html>
